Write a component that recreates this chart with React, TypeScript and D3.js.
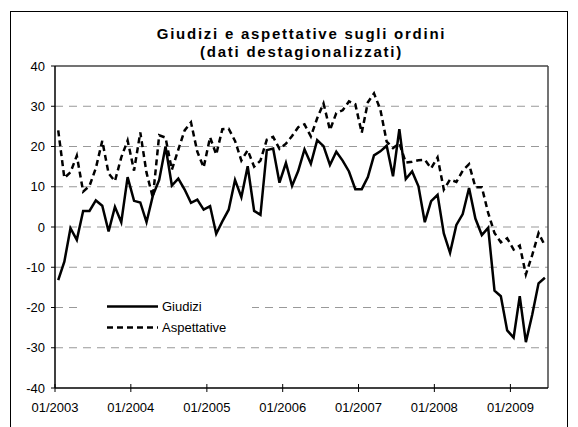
import * as d3 from "d3";

const WIDTH = 578;
const HEIGHT = 427;

const PLOT = { left: 55, right: 548, top: 66, bottom: 388 };

const START = new Date(2003, 0, 1);
const END = new Date(2009, 6, 1);

const TITLE = ["Giudizi e aspettative sugli ordini", "(dati destagionalizzati)"];
const SERIES_NAMES = ["Giudizi", "Aspettative"];

// monthly values, 01/2003 .. 06/2009
const giudizi = [
  -13.2, -8.6, -0.3, -3.2, 4.0, 4.0, 6.6, 5.3, -1.1, 5.0, 1.2, 12.4,
  6.5, 6.1, 1.2, 7.8, 11.7, 20.0, 10.3, 12.0, 9.3, 6.0, 6.8, 4.3,
  5.2, -1.7, 1.4, 4.3, 11.7, 7.4, 15.1, 4.0, 3.0, 19.1, 19.5, 11.0,
  15.9, 10.2, 13.9, 19.3, 15.7, 21.6, 20.1, 15.4, 18.7, 16.5, 13.8, 9.4,
  9.4, 12.4, 17.8, 18.8, 20.2, 12.6, 24.3, 11.9, 13.8, 10.1, 1.2, 6.4,
  8.0, -1.6, -6.4, 0.5, 3.2, 9.7, 2.1, -2.0, -0.2, -15.8, -17.2, -25.7,
  -27.5, -17.2, -28.6, -21.8, -14.0, -12.6,
];

const aspettative = [
  24.0, 12.2, 13.6, 17.7, 8.8, 10.2, 14.6, 21.4, 13.3, 11.4, 17.3, 21.5,
  14.0, 23.5, 13.5, 7.3, 22.8, 22.2, 14.2, 19.2, 24.0, 26.0, 18.7, 14.8,
  22.3, 18.0, 24.3, 24.4, 21.4, 16.5, 19.1, 15.0, 16.5, 21.7, 22.4, 19.4,
  20.7, 22.6, 24.8, 25.5, 22.5, 27.0, 30.7, 24.1, 28.3, 29.0, 31.2, 30.5,
  23.4, 31.0, 33.2, 29.2, 21.2, 19.6, 20.8, 16.0, 16.2, 16.6, 16.7, 14.6,
  17.3, 9.3, 11.8, 11.2, 14.0, 15.6, 9.9, 9.9, 3.5, -1.5, -3.8, -2.8,
  -5.6, -4.6, -11.8, -7.0, -1.5, -4.6,
];

const FONT = "'Liberation Sans', Arial, sans-serif";

export default function App() {
  const x = d3.scaleTime().domain([START, END]).range([PLOT.left, PLOT.right]);
  const y = d3.scaleLinear().domain([-40, 40]).range([PLOT.bottom, PLOT.top]);

  const months = d3.timeMonth.range(START, END);
  const mid = (m: Date) => (x(m) + x(d3.timeMonth.offset(m, 1))) / 2;

  const lineGen = d3
    .line<number>()
    .x((_, i) => mid(months[i]))
    .y(d => y(d));

  const yTicks = y.ticks(8);
  const xTicks = d3.timeYear.range(START, END);
  const fmt = d3.timeFormat("%m/%Y");

  const legendY = [306.5, 327.5];

  return (
    <svg
      width={WIDTH}
      height={HEIGHT}
      style={{ position: "absolute", left: 0, top: 0, background: "white" }}
      fontFamily={FONT}
    >
      <rect x={10.5} y={11.5} width={557} height={430} fill="white" stroke="black" strokeWidth={1} />

      {TITLE.map((t, i) => (
        <text
          key={t}
          x={(PLOT.left + PLOT.right) / 2}
          y={38.5 + i * 18.5}
          textAnchor="middle"
          fontSize={15}
          fontWeight="bold"
          letterSpacing={1.75}
        >
          {t}
        </text>
      ))}

      {/* gridlines */}
      {yTicks
        .filter(t => t > -40 && t < 40)
        .map(t => (
          <line
            key={t}
            x1={PLOT.left}
            x2={PLOT.right}
            y1={y(t)}
            y2={y(t)}
            stroke="#999"
            strokeWidth={1}
            strokeDasharray="8,6"
          />
        ))}

      {/* plot border top/right */}
      <line x1={PLOT.left} x2={PLOT.right} y1={PLOT.top} y2={PLOT.top} stroke="#444" strokeWidth={1.5} />
      <line x1={PLOT.right} x2={PLOT.right} y1={PLOT.top} y2={PLOT.bottom} stroke="#444" strokeWidth={1.5} />

      {/* legend box */}
      <rect x={80} y={294} width={172} height={45} fill="white" />
      <line x1={107} x2={158} y1={legendY[0]} y2={legendY[0]} stroke="black" strokeWidth={2.5} />
      <line
        x1={107}
        x2={158}
        y1={legendY[1]}
        y2={legendY[1]}
        stroke="black"
        strokeWidth={2.5}
        strokeDasharray="6,4"
      />
      {SERIES_NAMES.map((n, i) => (
        <text key={n} x={162} y={legendY[i]} dy="0.35em" fontSize={13}>
          {n}
        </text>
      ))}

      {/* series */}
      <path d={lineGen(aspettative) ?? ""} fill="none" stroke="black" strokeWidth={2.5} strokeDasharray="6,4" />
      <path d={lineGen(giudizi) ?? ""} fill="none" stroke="black" strokeWidth={2.5} strokeLinejoin="miter" />

      {/* y axis */}
      <line x1={PLOT.left} x2={PLOT.left} y1={PLOT.top} y2={PLOT.bottom} stroke="black" strokeWidth={1.5} />
      {yTicks.map(t => (
        <g key={t} transform={`translate(${PLOT.left},${y(t)})`}>
          <line x1={-4} x2={0} stroke="black" strokeWidth={1} />
          <text x={-10} dy="0.36em" textAnchor="end" fontSize={13}>
            {t}
          </text>
        </g>
      ))}

      {/* x axis */}
      <line x1={PLOT.left} x2={PLOT.right} y1={PLOT.bottom} y2={PLOT.bottom} stroke="black" strokeWidth={1.5} />
      {xTicks.map(t => (
        <g key={t.getTime()} transform={`translate(${x(t)},${PLOT.bottom})`}>
          <line y1={-4} y2={4} stroke="black" strokeWidth={1} />
          <text y={23.5} textAnchor="middle" fontSize={13}>
            {fmt(t)}
          </text>
        </g>
      ))}
    </svg>
  );
}
